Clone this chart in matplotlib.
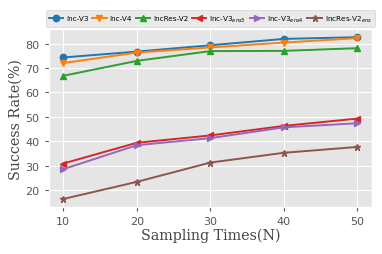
import numpy as np
import matplotlib
matplotlib.use("Agg")
import matplotlib.pyplot as plt

plt.style.use("ggplot")

times = [10, 20, 30, 40, 50]
inc_v3 = [74.3, 76.7, 79.3, 81.9, 82.6]
inc_v4 = [72.0, 76.3, 78.4, 80.4, 82.2]
incres_v2 = [66.8, 72.9, 76.9, 77.0, 78.1]
inc_v3_ens3 = [30.9, 39.4, 42.4, 46.3, 49.3]
inc_v3_ens4 = [28.6, 38.4, 41.3, 45.7, 47.4]
incres_v2_ens = [16.4, 23.4, 31.3, 35.3, 37.7]

series = [
    (inc_v3, "o", "Inc-V3"),
    (inc_v4, "v", "Inc-V4"),
    (incres_v2, "^", "IncRes-V2"),
    (inc_v3_ens3, "<", r"Inc-V3$_{ens3}$"),
    (inc_v3_ens4, ">", r"Inc-V3$_{ens4}$"),
    (incres_v2_ens, "*", r"IncRes-V2$_{ens}$"),
]
colors = ["#1f77b4", "#ff7f0e", "#2ca02c", "#d62728", "#9467bd", "#8c564b"]

fig = plt.figure(figsize=(3.82, 2.55), dpi=100)
ax = fig.add_axes([0.127, 0.184, 0.847, 0.698])

for (vals, m, lab), c in zip(series, colors):
    ax.plot(times, vals, marker=m, color=c, label=lab, linewidth=1.4, markersize=4.6)

ax.set_xticks(times)
ax.set_yticks([20, 30, 40, 50, 60, 70, 80])
ax.tick_params(labelsize=8, colors="#555555", length=3)
ax.set_xlabel("Sampling Times(N)", family="serif", fontsize=10.3, color="#444444", labelpad=1)
ax.set_ylabel("Success Rate(%)", family="serif", fontsize=10.3, color="#444444", labelpad=2)

ax.legend(loc="lower center", bbox_to_anchor=(0.5, 1.0), ncol=6,
          fontsize=5.2, handlelength=2.0, handletextpad=0.4, columnspacing=0.5,
          borderpad=0.45, borderaxespad=0.3, frameon=True, markerscale=1.0)

fig.savefig("out.png", dpi=100)
